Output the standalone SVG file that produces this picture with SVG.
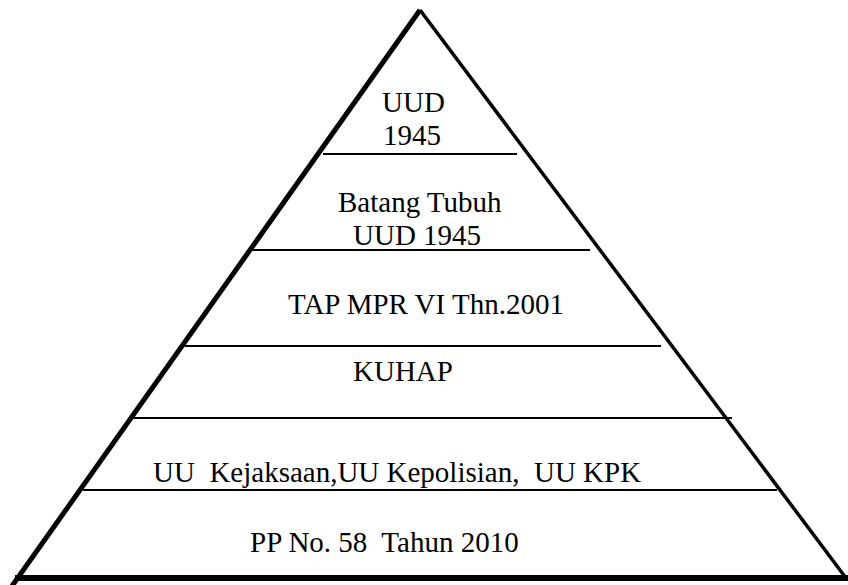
<svg xmlns="http://www.w3.org/2000/svg" width="848" height="585" viewBox="0 0 848 585">
<style>
text{font-family:'Liberation Serif','Times New Roman',serif;font-size:29px;fill:#000}
.h{stroke:#000;stroke-width:2;fill:none}
.s{stroke:#000;fill:none}
</style>
<rect width="848" height="585" fill="#fff"/>
<g id="connectors">
<line class="h" x1="323" y1="154" x2="517" y2="154"/>
<line class="h" x1="250" y1="250" x2="590" y2="250"/>
<line class="h" x1="185" y1="346" x2="661" y2="346"/>
<line class="h" x1="133" y1="418" x2="732" y2="418"/>
<line class="h" x1="83" y1="490" x2="777" y2="490"/>
</g>
<g id="pyramid">
<line class="s" x1="420" y1="10" x2="12" y2="586" stroke-width="5"/>
<line class="s" x1="420" y1="10" x2="846" y2="578" stroke-width="3.5"/>
<line class="s" x1="15" y1="578" x2="848" y2="578" stroke-width="6"/>
</g>
<g id="n1"><text x="382" y="112">UUD</text><text x="383" y="145">1945</text></g>
<g id="n2"><text x="338" y="212">Batang Tubuh</text><text x="353" y="245">UUD 1945</text></g>
<g id="n3"><text x="288" y="314">TAP MPR VI Thn.2001</text></g>
<g id="n4"><text x="353" y="381">KUHAP</text></g>
<g id="n5"><text x="153" y="482" font-size="30" xml:space="preserve">UU  Kejaksaan,UU Kepolisian,  UU KPK</text></g>
<g id="n6"><text x="250" y="552" font-size="31" xml:space="preserve">PP No. 58  Tahun 2010</text></g>
</svg>
